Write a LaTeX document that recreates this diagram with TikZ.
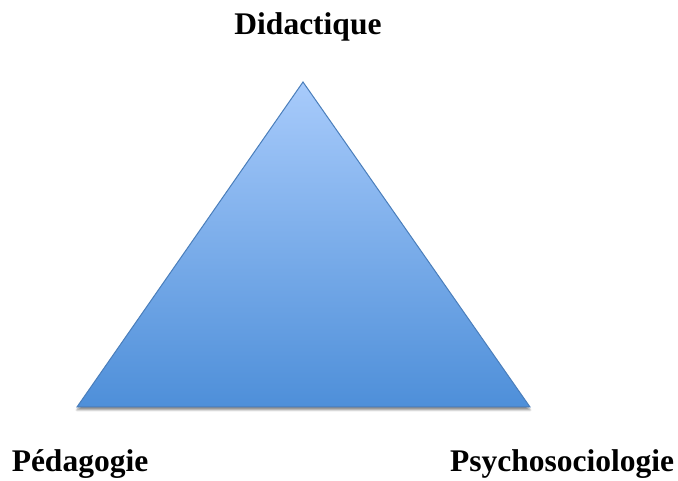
\documentclass[tikz,border=0pt]{standalone}
\usepackage{fontspec}
\setmainfont{Liberation Serif}
\usetikzlibrary{shadows.blur}
\definecolor{triTop}{HTML}{A8CBFB}
\definecolor{triBottom}{HTML}{4E8FD9}
\definecolor{triLine}{HTML}{4A7EBB}
\tikzset{
  pole/.style={anchor=base, font=\fontsize{31.5}{36}\selectfont\bfseries, inner sep=0pt},
}
\begin{document}
\begin{tikzpicture}[x=1pt,y=1pt]
            \useasboundingbox (0,0) rectangle (678,481);
            % triangle corners
            \coordinate (top) at (303,399);
            \coordinate (left) at (77,74);
            \coordinate (right) at (530,74);
            \draw[triLine, line width=1pt, top color=triTop, bottom color=triBottom,
                  blur shadow={shadow xshift=0pt, shadow yshift=-3pt, shadow opacity=45, shadow blur steps=6}]
                (top) -- (right) -- (left) -- cycle;

            \node[pole] (didactique) at (308,446) {Didactique};
            \node[pole] (pedagogie) at (80,9) {Pédagogie};
            \node[pole] (psycho) at (562,9) {Psychosociologie};
        \end{tikzpicture}
\end{document}
